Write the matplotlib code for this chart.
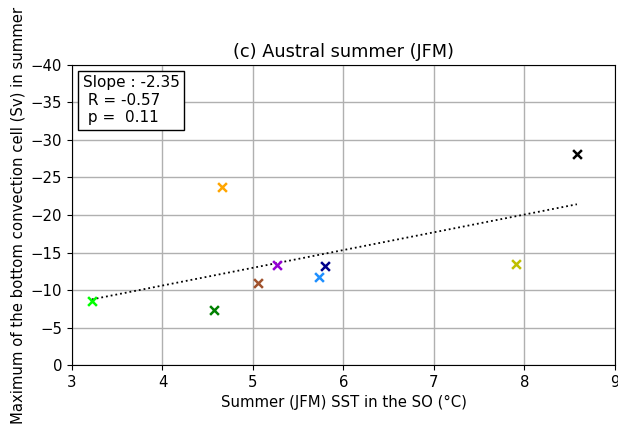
import numpy as np
import matplotlib
matplotlib.use("Agg")
import matplotlib.pyplot as plt

# values
sst = [3.22, 4.57, 4.66, 5.06, 5.27, 5.73, 5.80, 7.91, 8.58]
cell = [-8.6, -7.4, -23.7, -10.9, -13.3, -11.7, -13.2, -13.5, -28.1]
colors = ["lime", "green", "orange", "sienna", "darkviolet", "dodgerblue", "darkblue", "y", "black"]

slope_txt = "Slope : -2.35\n R = -0.57\n p =  0.11"

plt.rcParams["font.size"] = 10.7

fig = plt.figure(figsize=(6.18, 4.3), dpi=100)
ax = fig.add_axes([0.1165, 0.151, 0.8785, 0.698])

for x, y, c in zip(sst, cell, colors):
    ax.scatter(x, y, marker="x", color=c, s=40, linewidths=1.8, zorder=3)

# linear fit
a, b = np.polyfit(sst, cell, 1)
xs = np.array([min(sst), max(sst)])
ax.plot(xs, a * xs + b, ":", color="k", linewidth=1.3, zorder=2)

ax.set_xlim(3, 9)
ax.set_ylim(0, -40)
ax.set_xticks(np.arange(3, 10, 1))
ax.set_yticks(np.arange(0, -45, -5))
ax.grid(True, color="#b0b0b0", linewidth=1)
ax.set_axisbelow(True)

ax.set_title("(c) Austral summer (JFM)", fontsize=12.8)
ax.set_xlabel("Summer (JFM) SST in the SO (°C)")
ax.set_ylabel("Maximum of the bottom convection cell (Sv) in summer")

ax.text(0.02, 0.965, slope_txt, transform=ax.transAxes, va="top", ha="left",
        fontsize=11, bbox=dict(boxstyle="square,pad=0.3", facecolor="white", edgecolor="black"))

fig.savefig("out.png", dpi=100)
